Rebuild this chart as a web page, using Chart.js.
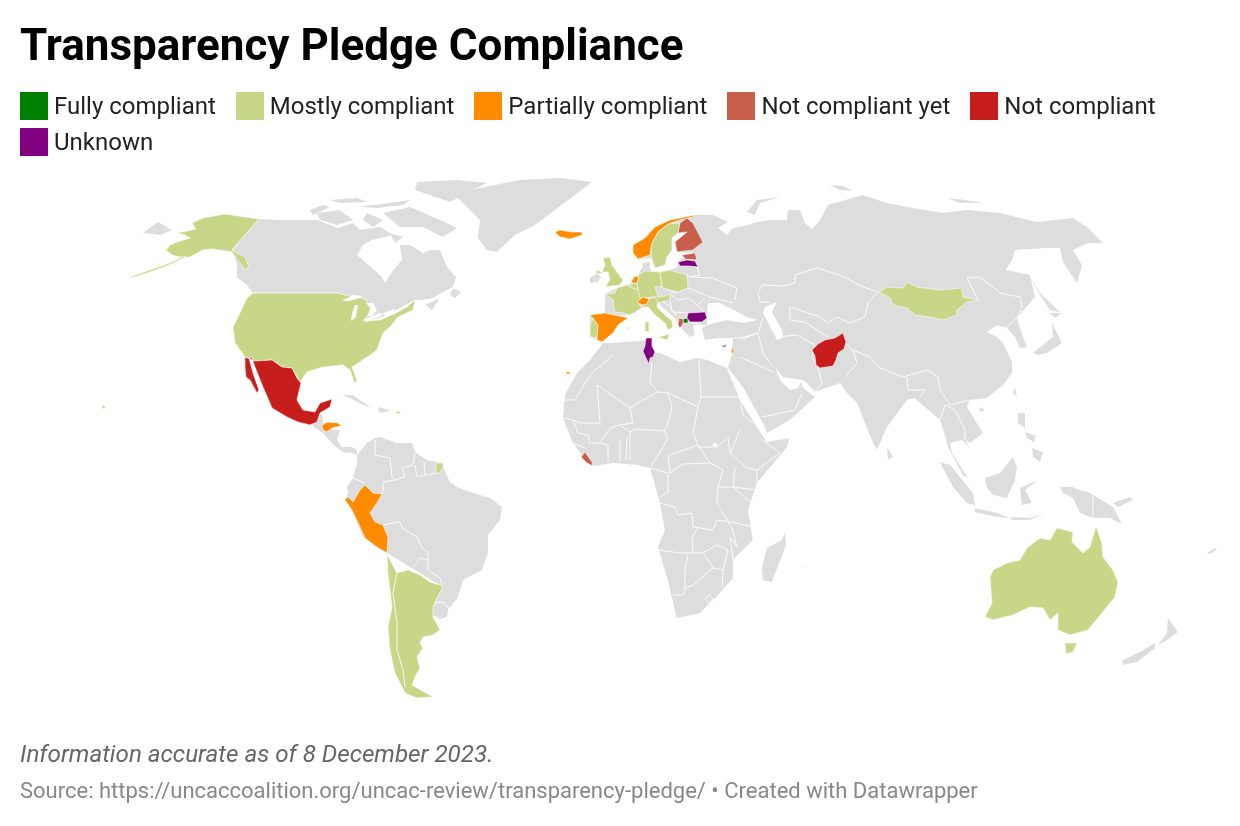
<!DOCTYPE html>
<html>
<head>
<meta charset="utf-8">
<title>Transparency Pledge Compliance</title>
<script src="https://cdn.jsdelivr.net/npm/chart.js@4"></script>
<style>
  html, body { margin: 0; background: #fff; font-family: Roboto, sans-serif; }
  #page { position: relative; width: 1240px; height: 826px; overflow: hidden; }
  #map { position: absolute; left: 0; top: 0; }
  h1 { position: absolute; left: 20px; top: 20px; margin: 0; font-size: 44px; line-height: 50px; font-weight: 700; color: #000; }
  #legend { position: absolute; left: 20px; top: 88px; width: 1200px; display: flex; flex-wrap: wrap; column-gap: 19.95px; row-gap: 0; }
  .item { display: flex; align-items: center; height: 36px; font-size: 24px; color: #222; }
  .item i { display: block; width: 28px; height: 28px; margin-right: 6px; }
  #note { position: absolute; left: 20px; top: 740px; font-size: 24.2px; font-style: italic; color: #666; }
  #source { position: absolute; left: 20px; top: 778px; font-size: 22px; color: #888; }
</style>
</head>
<body>
<div id="page">
  <canvas id="map" width="1240" height="826"></canvas>
  <h1>Transparency Pledge Compliance</h1>
  <div id="legend"></div>
  <div id="note">Information accurate as of 8 December 2023.</div>
  <div id="source">Source: https://uncaccoalition.org/uncac-review/transparency-pledge/ • Created with Datawrapper</div>
</div>
<script>
const statusLabels = ["Fully compliant", "Mostly compliant", "Partially compliant", "Not compliant yet", "Not compliant", "Unknown"];
const statusColors = ["#008000", "#c8d687", "#ff8c00", "#c75f4a", "#c71e1d", "#800080"];

// outlines, in map units (x right, y down)
const eurasia = [[590,337],[590,315],[605,313],[605,294],[617,288],[627,285],[632,283],[638,275],[642,268],[650,268],[652,272],[660,272],[670,270],[678,267],[678,263],[682,258],[695,253],[677,252],[675,242],[687,232],[678,233],[672,238],[672,250],[667,257],[665,265],[655,268],[651,258],[638,259],[633,253],[633,245],[645,238],[655,227],[670,220],[695,215],[713,215],[728,222],[718,228],[727,235],[733,228],[745,226],[757,222],[770,220],[787,220],[788,210],[800,210],[805,223],[812,229],[820,220],[828,205],[863,195],[887,203],[913,208],[943,213],[967,210],[1000,213],[1037,222],[1073,218],[1087,227],[1103,243],[1088,243],[1073,250],[1082,265],[1077,283],[1063,262],[1060,248],[1045,248],[1015,250],[1013,258],[1006,270],[1030,275],[1035,297],[1017,318],[1023,337],[1027,347],[1020,348],[1015,337],[1007,328],[997,325],[987,332],[997,337],[1003,343],[1012,362],[1012,373],[1003,385],[987,398],[970,400],[967,407],[983,433],[970,443],[965,440],[970,448],[962,440],[950,443],[952,453],[968,478],[963,475],[948,447],[945,435],[940,420],[925,407],[915,398],[907,400],[887,427],[877,450],[872,440],[857,403],[847,393],[840,383],[815,392],[806,382],[800,379],[803,388],[815,397],[790,420],[767,433],[764,425],[743,387],[728,368],[732,353],[733,338],[718,338],[705,340],[702,328],[707,325],[693,325],[695,335],[690,337],[683,330],[675,318],[660,305],[657,299],[657,307],[648,307],[642,308],[630,315],[620,315],[628,318],[618,325],[613,333],[602,342],[597,340]];
const africa = [[727,368],[707,360],[697,358],[680,362],[660,353],[653,352],[652,340],[613,343],[603,343],[590,360],[577,373],[565,395],[563,418],[573,443],[582,455],[595,466],[613,463],[637,465],[650,468],[653,478],[660,503],[665,530],[658,547],[667,577],[677,618],[700,613],[720,593],[733,578],[733,560],[753,540],[748,510],[757,483],[787,447],[789,438],[767,442],[762,435],[740,400]];
const canada = [[259,219],[277,220],[297,220],[317,220],[338,228],[353,223],[360,230],[380,227],[393,235],[372,240],[363,245],[357,255],[372,268],[382,277],[385,283],[392,272],[402,260],[400,245],[410,245],[423,253],[430,250],[440,250],[447,267],[456,277],[453,287],[443,292],[433,298],[421,300],[415,300],[405,305],[396,310],[380,318],[363,322],[370,308],[365,299],[350,296],[337,293],[253,293],[247,285],[237,277],[237,263],[232,251]];
const southAmerica = [[357,455],[367,443],[375,438],[380,437],[397,443],[412,443],[415,452],[427,460],[437,462],[443,467],[450,482],[457,487],[473,493],[490,498],[502,507],[500,520],[488,535],[488,553],[482,570],[463,580],[458,597],[448,610],[447,617],[440,619],[433,615],[433,607],[443,587],[387,553],[377,547],[363,537],[353,513],[345,500],[348,493],[347,487],[353,478],[357,463]];
const centralAmerica = [[310,422],[317,415],[322,415],[323,423],[333,430],[340,430],[337,440],[342,447],[352,447],[357,450],[357,455],[350,452],[345,453],[337,448],[332,443],[323,433],[315,428]];
const greenland = [[592,182],[560,178],[520,180],[480,188],[455,195],[470,210],[480,220],[478,238],[487,250],[497,252],[515,235],[535,225],[555,210],[575,195]];
const cuba = [[342,395],[353,395],[367,405],[375,408],[363,405],[350,398]];
const hispaniola = [[378,407],[390,410],[383,413],[379,412]];
const ireland = [[590,278],[597,273],[601,277],[598,282],[590,283]];
const denmark = [[642,263],[650,262],[650,268],[643,268]];
const madagascar = [[785,532],[786,545],[772,582],[763,580],[762,568],[767,548],[782,540]];
const sriLanka = [[887,447],[893,457],[888,460]];
const taiwan = [[1015,387],[1017,397],[1013,393]];
const hainan = [[980,407],[985,410],[980,412]];
const honshu = [[1033,353],[1053,337],[1052,323],[1062,343],[1047,353],[1038,355]];
const hokkaido = [[1050,313],[1062,313],[1055,318]];
const sakhalin = [[1030,277],[1040,293],[1060,312],[1050,310],[1038,292]];
const sumatra = [[940,462],[950,465],[973,493],[975,505],[967,503],[953,487]];
const java = [[975,508],[997,513],[1010,518],[997,517],[975,512]];
const lesserSunda = [[1010,517],[1030,518],[1045,513],[1030,520],[1012,520]];
const borneo = [[985,478],[1000,473],[1013,457],[1017,467],[1015,480],[1007,498],[993,495],[987,488]];
const sulawesi = [[1020,488],[1038,480],[1025,490],[1032,503],[1022,505]];
const luzon = [[1018,413],[1025,413],[1025,428],[1018,423]];
const visayas = [[1025,432],[1036,436],[1034,442],[1027,438]];
const mindanao = [[1032,448],[1043,452],[1040,462],[1033,457]];
const newGuinea = [[1060,487],[1072,487],[1090,493],[1113,507],[1122,524],[1110,518],[1093,518],[1080,513],[1073,498],[1063,493]];
const newBritain = [[1113,503],[1130,497],[1133,500],[1118,507]];
const nzSouth = [[1122,665],[1123,660],[1140,652],[1155,643],[1155,648],[1137,662]];
const nzNorth = [[1158,645],[1167,633],[1168,618],[1178,632],[1167,640]];
const newCaledonia = [[1207,553],[1215,548],[1217,549],[1210,554]];
const chukotkaWest = [[143,233],[158,222],[172,230],[160,235]];
const novayaZemlya = [[747,212],[757,200],[780,197],[760,203],[755,215]];
const franzJosef = [[830,185],[843,186],[853,191],[840,190]];
const severnaya = [[947,198],[965,200],[982,203],[960,203]];
const victoriaIsland = [[317,213],[340,210],[353,220],[337,225],[320,220]];
const banksIsland = [[310,210],[323,205],[330,207],[313,215]];
const baffinIsland = [[383,213],[410,207],[440,220],[457,228],[443,237],[423,227],[400,227]];
const ellesmereIsland = [[417,182],[457,180],[487,183],[467,193],[450,202],[430,195],[415,190]];
const devonIsland = [[357,207],[390,203],[410,200],[403,205],[377,208]];
const melvilleIsland = [[330,200],[357,198],[367,202],[340,203]];
const somersetIsland = [[367,213],[383,220],[373,227],[363,220]];
const southamptonIsland = [[390,233],[403,237],[395,243]];
const newfoundland = [[453,288],[461,292],[455,298],[450,295]];
const novaScotia = [[425,305],[440,298],[432,310]];
const greyLand = [eurasia, africa, canada, southAmerica, centralAmerica, greenland, cuba, hispaniola, ireland, denmark, madagascar, sriLanka, taiwan, hainan, honshu, hokkaido, sakhalin, sumatra, java, lesserSunda, borneo, sulawesi, luzon, visayas, mindanao, newGuinea, newBritain, nzSouth, nzNorth, newCaledonia, chukotkaWest, novayaZemlya, franzJosef, severnaya, victoriaIsland, banksIsland, baffinIsland, ellesmereIsland, devonIsland, melvilleIsland, somersetIsland, southamptonIsland, newfoundland, novaScotia];

const northMacedonia = [[683,319],[688,318],[688,323],[683,323]];
const fullyShapes = [northMacedonia];

const alaska = [[259,219],[232,250],[237,253],[245,257],[249,267],[245,270],[238,260],[232,252],[213,249],[203,250],[190,257],[180,257],[172,255],[166,250],[170,245],[177,242],[190,238],[185,235],[177,233],[187,231],[196,229],[192,223],[203,218],[225,214]];
const aleutians = [[130,277],[147,271],[167,264],[185,256],[186,257],[167,266],[147,273],[131,278]];
const usa = [[253,293],[337,293],[350,296],[365,299],[372,310],[363,321],[380,320],[396,313],[407,307],[415,300],[413,310],[398,317],[390,327],[383,333],[377,350],[360,362],[352,367],[357,380],[355,384],[350,370],[343,365],[323,367],[307,372],[300,382],[292,368],[282,367],[272,360],[255,361],[245,357],[235,343],[233,327],[240,313],[247,298]];
const hawaii = [[102,405],[106,407],[104,409],[102,408]];
const puertoRico = [[396,411],[401,412],[400,414],[396,413]];
const guyane = [[436,463],[443,463],[443,468],[438,474],[436,472]];
const southernCone = [[387,553],[390,560],[397,573],[408,570],[420,575],[430,582],[440,585],[443,587],[437,598],[433,607],[433,617],[440,630],[433,635],[423,637],[420,643],[423,648],[417,657],[420,668],[415,677],[412,685],[433,697],[417,698],[405,693],[395,673],[390,650],[388,627],[392,607],[388,573]];
const portugal = [[593,318],[598,325],[597,338],[590,337],[590,327]];
const uk = [[603,258],[610,257],[612,265],[623,280],[620,285],[605,287],[610,280],[608,272],[602,272],[605,265]];
const northernIreland = [[597,270],[602,272],[600,274],[596,273]];
const france = [[605,294],[615,293],[617,288],[627,285],[638,290],[642,297],[638,303],[642,308],[630,315],[620,312],[615,313],[613,300]];
const belgium = [[633,283],[637,283],[638,290],[630,287]];
const germany = [[638,275],[645,271],[660,272],[662,286],[655,287],[658,297],[640,298],[638,290],[637,283],[639,277]];
const poland = [[660,272],[670,270],[687,275],[688,288],[678,292],[663,288],[662,286]];
const austria = [[650,297],[662,297],[670,294],[670,300],[658,303],[650,300]];
const italy = [[645,300],[655,297],[658,302],[657,307],[665,315],[677,325],[672,322],[673,327],[668,330],[665,323],[655,315],[648,307],[642,307]];
const sicily = [[658,337],[670,334],[667,340]];
const sardinia = [[645,322],[649,322],[649,332],[645,331]];
const sweden = [[652,243],[658,232],[668,224],[680,223],[678,233],[672,238],[672,250],[667,257],[665,265],[655,268],[651,255]];
const mongolia = [[879,292],[887,287],[903,288],[907,282],[917,287],[940,290],[962,288],[963,297],[978,300],[967,302],[957,310],[957,315],[943,320],[930,317],[915,315],[907,308],[893,305],[890,298]];
const australia = [[990,577],[993,570],[1007,563],[1020,560],[1027,548],[1040,538],[1050,540],[1057,528],[1073,532],[1072,542],[1083,553],[1090,547],[1096,526],[1102,543],[1103,557],[1113,570],[1118,582],[1115,597],[1102,613],[1088,630],[1070,635],[1058,630],[1058,613],[1050,620],[1043,608],[1030,607],[1013,615],[993,620],[985,617],[992,603]];
const tasmania = [[1065,643],[1077,643],[1073,652],[1066,654]];
const mauritius = [[802,565],[804,566],[802,567]];
const mostlyShapes = [alaska, aleutians, usa, hawaii, puertoRico, guyane, southernCone, portugal, uk, northernIreland, france, belgium, germany, poland, austria, italy, sicily, sardinia, sweden, mongolia, australia, tasmania, mauritius];

const honduras = [[322,425],[328,422],[338,423],[341,426],[332,428],[327,432],[323,430]];
const peru = [[365,485],[373,493],[382,494],[377,503],[370,513],[375,522],[383,525],[388,537],[387,553],[377,547],[365,538],[360,527],[352,510],[345,500],[348,497],[353,502],[360,490]];
const spain = [[590,315],[605,313],[628,318],[618,325],[613,333],[602,342],[597,340],[598,325],[593,318]];
const balearics = [[627,328],[630,327],[629,329]];
const iceland = [[555,232],[560,230],[572,232],[582,232],[582,235],[570,239],[560,237]];
const norway = [[633,245],[645,238],[655,227],[670,220],[695,215],[693,217],[680,220],[668,224],[658,232],[652,243],[650,255],[638,259],[633,253]];
const netherlands = [[631,282],[635,276],[639,277],[637,283],[633,283]];
const switzerland = [[637,302],[643,297],[649,299],[647,304],[642,305]];
const montenegro = [[676,315],[679,317],[677,318]];
const israel = [[732,348],[734,350],[733,353],[731,353]];
const canaryIslands = [[566,372],[570,372],[570,374],[566,374]];
const partialShapes = [honduras, peru, spain, balearics, iceland, norway, netherlands, switzerland, montenegro, israel, canaryIslands];

const finland = [[680,223],[687,218],[693,223],[703,242],[693,250],[677,252],[675,242],[687,232],[678,233]];
const estonia = [[682,255],[695,253],[697,260],[685,259]];
const albania = [[679,318],[683,319],[683,324],[680,328],[678,325]];
const liberia = [[585,452],[592,462],[593,466],[587,463],[581,457]];
const notYetShapes = [finland, estonia, albania, liberia];

const mexico = [[245,357],[255,361],[272,360],[282,367],[292,368],[297,378],[301,383],[297,400],[303,410],[315,412],[320,403],[332,399],[330,407],[320,413],[317,422],[310,425],[298,422],[287,417],[272,408],[270,403],[263,387],[255,367],[252,358],[249,358],[253,373],[259,390],[257,393],[250,380],[246,377],[245,367]];
const afghanistan = [[812,350],[818,344],[825,340],[835,338],[843,333],[846,342],[844,349],[838,353],[836,360],[833,366],[820,368],[816,365],[815,356]];
const notCompliantShapes = [mexico, afghanistan];

const latvia = [[678,262],[687,260],[695,261],[698,267],[690,266],[680,266]];
const bulgaria = [[688,313],[705,312],[707,318],[702,322],[690,322],[687,318]];
const tunisia = [[646,338],[652,338],[652,346],[655,352],[653,357],[650,358],[649,364],[646,358],[643,351],[645,346]];
const cyprus = [[721,347],[727,344],[725,347]];
const unknownShapes = [latvia, bulgaria, tunisia, cyprus];

const statusShapes = [fullyShapes, mostlyShapes, partialShapes, notYetShapes, notCompliantShapes, unknownShapes];

const blackSea = [[707,315],[708,303],[720,303],[730,308],[747,317],[757,320],[743,323],[727,320],[707,325]];
const caspianSea = [[765,307],[777,302],[772,312],[782,330],[783,338],[777,340],[772,330],[763,313]];
const persianGulf = [[775,367],[783,377],[802,380],[798,388],[790,390],[780,380]];
const lakeSuperior = [[342,301],[353,295],[363,296],[357,299],[348,301]];
const lakeMichigan = [[355,305],[358,305],[356,317],[351,321],[352,314]];
const lakeHuron = [[366,303],[373,303],[377,310],[372,316],[368,316],[370,308]];
const lakeErie = [[363,320],[380,313],[383,315],[367,322]];
const lakeOntario = [[383,313],[395,309],[393,313],[385,316]];
const lakeVictoria = [[713,443],[717,443],[717,447],[713,446]];
const waterBodies = [blackSea, caspianSea, persianGulf, lakeSuperior, lakeMichigan, lakeHuron, lakeErie, lakeOntario, lakeVictoria];

const usCanadaBorder = [[253,293],[337,293]];
const southAmericaBorders = [
  [[375,440],[375,455],[390,458],[392,477],[395,480]],
  [[395,480],[405,477],[402,468],[413,465],[415,453]],
  [[417,477],[415,465]],
  [[417,477],[425,475],[424,462]],
  [[425,475],[437,473]],
  [[353,478],[365,483]],
  [[395,480],[383,482],[383,490],[382,494]],
  [[388,537],[383,525],[400,522],[402,528],[417,537],[422,548],[428,552],[428,570],[440,578],[442,585]],
  [[413,567],[420,558],[428,560]],
  [[433,603],[443,602],[450,610]]
];
const africaBorders = [
  [[613,355],[590,375],[575,400],[563,400]],
  [[597,385],[630,408],[657,392],[650,382],[652,363]],
  [[597,385],[600,423],[580,423],[573,420]],
  [[630,408],[633,423],[620,425],[610,428],[600,443]],
  [[699,360],[701,397],[740,397]],
  [[657,392],[668,393],[698,407],[701,397]],
  [[668,393],[672,407],[667,427],[664,431]],
  [[620,425],[630,432],[635,429],[664,431],[668,438],[657,457],[650,467]],
  [[698,407],[693,433],[698,445],[670,455]],
  [[668,455],[670,473],[683,464],[710,463],[698,445]],
  [[698,447],[717,447],[728,437],[730,453],[747,468],[757,470],[780,453],[760,438]],
  [[740,430],[733,447],[730,453]],
  [[740,397],[743,415],[753,423]],
  [[710,463],[723,470],[718,487],[717,503],[732,528]],
  [[757,470],[757,490],[733,487],[735,467]],
  [[718,487],[733,487],[750,502]],
  [[732,522],[753,527]],
  [[660,503],[675,507],[678,515],[692,513],[693,527],[713,530],[717,520],[732,522]],
  [[658,550],[680,553],[703,553],[713,568],[723,570],[728,550],[717,545],[703,553]],
  [[698,528],[692,537],[693,552]],
  [[732,528],[737,547],[730,537],[733,560]],
  [[723,570],[722,587]],
  [[688,555],[685,570],[685,588],[693,585],[713,568]],
  [[685,588],[683,595],[673,595]],
  [[563,418],[573,420],[578,433],[588,435],[590,443],[600,443],[608,445],[608,463]],
  [[620,440],[620,462]],
  [[627,437],[626,460]],
  [[630,432],[630,460]],
  [[573,443],[585,448]],
  [[650,468],[668,473],[668,492],[660,497]],
  [[710,595],[713,599],[708,603],[705,599],[710,595]]
];
const asiaBorders = [
  [[758,293],[762,285],[783,286],[795,283],[795,275],[817,268],[840,275],[863,287],[878,292]],
  [[878,292],[868,302],[865,317],[850,323],[837,317],[828,323],[820,317],[790,307],[790,320],[805,322],[828,337]],
  [[758,293],[760,302],[770,302]],
  [[777,337],[797,335],[815,345],[812,357],[818,368],[822,383],[815,392]],
  [[845,377],[857,363],[853,350],[845,343]],
  [[853,350],[870,357],[880,368],[903,377],[927,370],[938,377],[940,390]],
  [[907,377],[908,390],[925,390],[920,397]],
  [[940,390],[950,405],[970,400]],
  [[940,420],[945,405],[955,410],[965,430],[965,440]],
  [[978,300],[967,278],[980,277],[1000,293],[1020,297],[1022,308],[1017,318],[1003,330]],
  [[740,340],[758,333],[763,353],[773,367]],
  [[740,357],[773,372]],
  [[762,417],[795,410],[802,393]],
  [[733,338],[745,337],[758,333]],
  [[763,318],[758,333]],
  [[1093,495],[1093,518]]
];
const europeBorders = [
  [[690,277],[712,278],[737,288],[735,300]],
  [[688,288],[710,297],[733,303]],
  [[697,267],[700,275],[690,277],[687,275]],
  [[662,286],[675,293],[688,288]],
  [[670,294],[678,300],[688,298],[697,305],[705,312]],
  [[670,300],[672,312],[688,313]],
  [[660,300],[668,305],[676,315]],
  [[697,305],[705,298]],
  [[690,322],[702,325]]
];
const borderLines = [usCanadaBorder, ...southAmericaBorders, ...africaBorders, ...asiaBorders, ...europeBorders];
const chileBorder = [[397,573],[393,593],[397,623],[397,650],[403,670],[405,687]];

function toPoints(shape) {
  return shape.map(function (p) { return { x: p[0], y: p[1] }; });
}

// tiny tension keeps Chart.js off its fast path, which merges points per x pixel
function polygon(shape, color, lineWidth) {
  let pts = toPoints(shape);
  pts.push(pts[0]);
  return {
    data: pts,
    showLine: true,
    fill: "shape",
    backgroundColor: color,
    borderColor: "#fff",
    borderWidth: lineWidth,
    pointRadius: 0,
    pointHitRadius: 0,
    tension: 0.001
  };
}

function polyline(shape) {
  return {
    data: toPoints(shape),
    showLine: true,
    fill: false,
    borderColor: "#fff",
    borderWidth: 0.9,
    pointRadius: 0,
    pointHitRadius: 0,
    tension: 0.001
  };
}

let datasets = [];
for (let shape of greyLand) datasets.push(polygon(shape, "#dddddd", 0));
for (let line of borderLines) datasets.push(polyline(line));
statusShapes.forEach(function (shapes, i) {
  for (let shape of shapes) datasets.push(polygon(shape, statusColors[i], 0.6));
});
datasets.push(polyline(chileBorder));
for (let shape of waterBodies) datasets.push(polygon(shape, "#ffffff", 0));

// Chart.js paints the first dataset last, so put the land at the end
datasets.reverse();

new Chart(document.getElementById("map"), {
  type: "scatter",
  data: { datasets: datasets },
  options: {
    responsive: false,
    animation: false,
    layout: { padding: 0 },
    events: [],
    plugins: { legend: { display: false }, tooltip: { enabled: false } },
    scales: {
      x: { type: "linear", min: 0, max: 1240, display: false },
      y: { type: "linear", min: 0, max: 826, reverse: true, display: false }
    }
  }
});

let legendBox = document.getElementById("legend");
statusLabels.forEach(function (label, i) {
  let item = document.createElement("div");
  item.className = "item";
  item.innerHTML = '<i style="background:' + statusColors[i] + '"></i>' + label;
  legendBox.appendChild(item);
});
</script>
</body>
</html>
